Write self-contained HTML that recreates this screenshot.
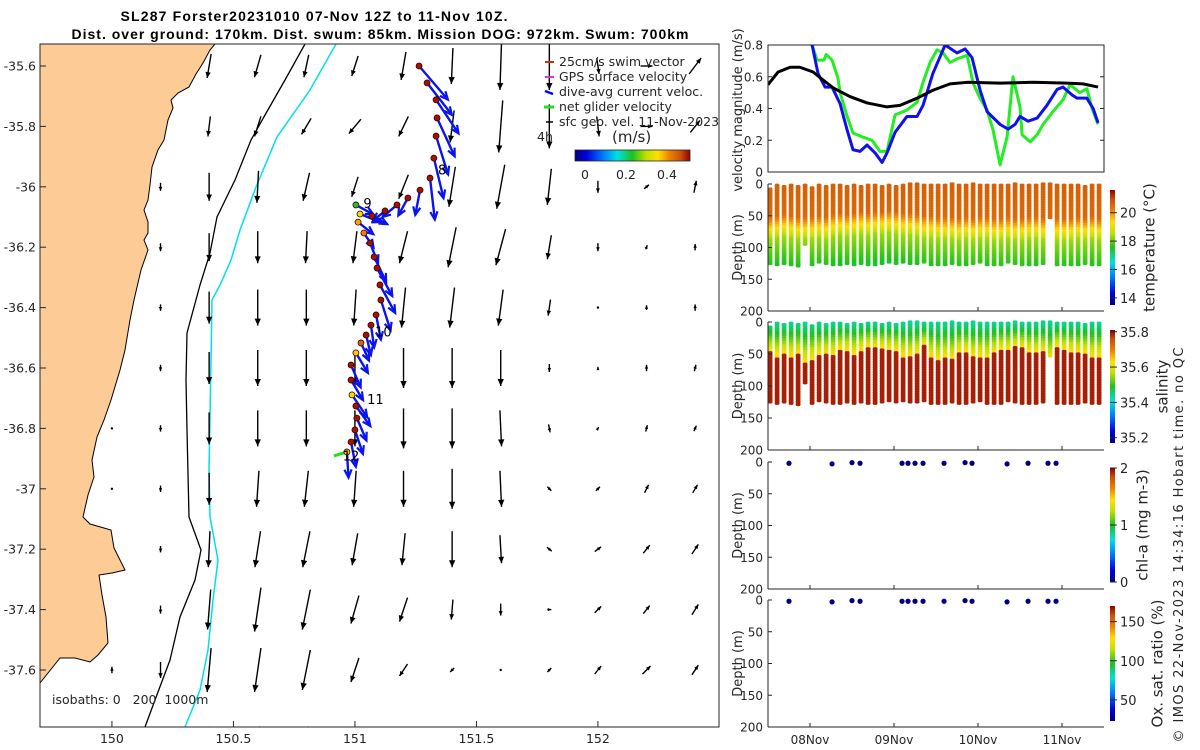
<!DOCTYPE html>
<html><head><meta charset="utf-8">
<style>
html,body{margin:0;padding:0;background:#fff;}
svg{display:block;font-family:"DejaVu Sans","Liberation Sans",sans-serif;}
.tk{font-size:12px;fill:#262626;}
.mt{font-size:12.5px;fill:#262626;}
</style></head>
<body>
<svg id="chart" width="1200" height="750" viewBox="0 0 1200 750">
<defs>
<clipPath id="mapclip"><rect x="40" y="44" width="679" height="683"/></clipPath>
<clipPath id="velclip"><rect x="768" y="45" width="336" height="127"/></clipPath>
<linearGradient id="gradH" x1="0" y1="0" x2="1" y2="0">
<stop offset="0" stop-color="#000080"/><stop offset="0.1" stop-color="#0000e0"/><stop offset="0.25" stop-color="#0080ff"/><stop offset="0.37" stop-color="#00e0e0"/><stop offset="0.5" stop-color="#20c020"/><stop offset="0.62" stop-color="#c0e000"/><stop offset="0.72" stop-color="#ffe000"/><stop offset="0.82" stop-color="#f08200"/><stop offset="0.92" stop-color="#c8500a"/><stop offset="1" stop-color="#900000"/>
</linearGradient>
<linearGradient id="gradV" x1="0" y1="1" x2="0" y2="0">
<stop offset="0" stop-color="#000080"/><stop offset="0.1" stop-color="#0000e0"/><stop offset="0.25" stop-color="#0080ff"/><stop offset="0.37" stop-color="#00e0e0"/><stop offset="0.5" stop-color="#20c020"/><stop offset="0.62" stop-color="#c0e000"/><stop offset="0.72" stop-color="#ffe000"/><stop offset="0.82" stop-color="#f08200"/><stop offset="0.92" stop-color="#c8500a"/><stop offset="1" stop-color="#900000"/>
</linearGradient>
</defs>

<text x="314" y="21" text-anchor="middle" font-family="Liberation Sans, sans-serif" font-weight="bold" font-size="14" textLength="387">SL287 Forster20231010 07-Nov 12Z to 11-Nov 10Z.</text>
<text x="380" y="39" text-anchor="middle" font-family="Liberation Sans, sans-serif" font-weight="bold" font-size="14" textLength="617">Dist. over ground: 170km. Dist. swum: 85km. Mission DOG: 972km. Swum: 700km</text>

<g id="map">
  <g clip-path="url(#mapclip)" id="mapinner"></g>
  <rect x="40" y="44" width="679" height="683" fill="none" stroke="#262626" stroke-width="1"/>
  <text x="52" y="704" class="mt" xml:space="preserve">isobaths: 0   200  1000m</text>
</g>

<g id="legend">
  <line x1="545" y1="62" x2="554" y2="62" stroke="#d03010" stroke-width="2"/>
  <text x="559" y="66" class="mt">25cm/s swim vector</text>
  <line x1="545" y1="77" x2="554" y2="77" stroke="#e030e0" stroke-width="2"/>
  <text x="559" y="81" class="mt">GPS surface velocity</text>
  <line x1="545" y1="91" x2="553" y2="94" stroke="#0000ff" stroke-width="2.5"/>
  <text x="559" y="96" class="mt">dive-avg current veloc.</text>
  <line x1="544" y1="107" x2="554" y2="107" stroke="#20e020" stroke-width="3"/>
  <text x="559" y="111" class="mt">net glider velocity</text>
  <line x1="546" y1="122" x2="553" y2="122" stroke="#000" stroke-width="1.5"/>
  <text x="559" y="126" class="mt">sfc geo. vel. 11-Nov-2023</text>
  <text x="537" y="141" class="mt">4h</text>
  <text x="612" y="142" font-size="15" fill="#262626">(m/s)</text>
  <rect x="575" y="150" width="115" height="11" fill="url(#gradH)" stroke="#262626" stroke-width="0.8"/>
  <text x="585" y="179" text-anchor="middle" class="mt">0</text>
  <text x="626" y="179" text-anchor="middle" class="mt">0.2</text>
  <text x="667" y="179" text-anchor="middle" class="mt">0.4</text>
</g>

<g id="right"></g>

<text transform="translate(1183,545) rotate(-90)" text-anchor="middle" font-size="13" fill="#262626" textLength="395">© IMOS 22-Nov-2023 14:34:16 Hobart time. no QC</text>
</svg>

<script>
// ---------------- data ----------------
const geoLons = [149.8,150.0,150.2,150.4,150.6,150.8,151.0,151.2,151.4,151.6,151.8,152.0,152.2,152.4];
const geoLats = [-35.6,-35.8,-36.0,-36.2,-36.4,-36.6,-36.8,-37.0,-37.2,-37.4,-37.6,-37.8];
const n=null;
const geoU = [
 [n,n,n,-0.05,-0.08,-0.06,-0.08,-0.06,-0.02,-0.02,0,0.03,0.15,0.15],
 [n,n,n,-0.03,-0.08,-0.12,-0.15,-0.12,-0.05,-0.05,0,0.03,0.15,0.12],
 [n,n,0,0,-0.02,-0.08,-0.08,-0.12,-0.08,-0.1,-0.05,0,0.06,0.03],
 [n,n,0,0,0,-0.02,-0.05,-0.1,-0.1,-0.12,-0.05,0,0.02,0],
 [n,n,0,0,0,0,-0.03,-0.05,-0.06,-0.06,-0.03,0,0,0],
 [n,n,0,0,0,0,0,0,0,0,0,0,0,0.02],
 [n,0,0,0,0,0,0,0,0,0.02,0.02,0.02,0.02,0.03],
 [n,0,0,0,-0.03,-0.05,-0.03,0,0,0.02,0.05,0.05,0.05,0.06],
 [n,n,0,-0.02,-0.07,-0.09,-0.07,-0.04,0,0.02,0.06,0.08,0.08,0.08],
 [n,n,0,-0.04,-0.08,-0.1,-0.1,-0.1,-0.02,0,0.05,0.08,0.08,0.08],
 [n,0,0,-0.05,-0.08,-0.1,-0.1,-0.1,-0.05,0,0.05,0.08,0.1,0.08],
 [0,0,0,-0.03,-0.05,-0.05,-0.05,-0.05,0,0,0.05,0.05,0.05,0.05]
];
const geoV = [
 [n,n,n,-0.3,-0.28,-0.28,-0.25,-0.35,-0.45,-0.6,-0.6,-0.2,0,0.2],
 [n,n,n,-0.25,-0.25,-0.2,-0.18,-0.25,-0.4,-0.65,-0.55,-0.25,0,0.15],
 [n,n,-0.1,-0.35,-0.4,-0.35,-0.25,-0.3,-0.5,-0.55,-0.45,-0.15,0.05,0.15],
 [n,n,-0.1,-0.35,-0.4,-0.4,-0.4,-0.4,-0.5,-0.45,-0.3,-0.1,0.05,0.08],
 [n,n,-0.08,-0.4,-0.45,-0.45,-0.45,-0.5,-0.5,-0.45,-0.2,0.02,0.06,0.08],
 [n,n,-0.08,-0.4,-0.45,-0.45,-0.45,-0.5,-0.5,-0.45,-0.1,0.03,0.08,0.08],
 [n,0.02,-0.08,-0.4,-0.45,-0.45,-0.45,-0.5,-0.5,-0.45,-0.1,0.03,0.08,0.07],
 [n,0.01,-0.08,-0.4,-0.45,-0.45,-0.45,-0.45,-0.5,-0.45,-0.05,0.05,0.1,0.1],
 [n,n,-0.08,-0.45,-0.45,-0.45,-0.4,-0.4,-0.45,-0.35,-0.05,0.06,0.1,0.12],
 [n,n,-0.1,-0.5,-0.55,-0.5,-0.35,-0.3,-0.25,-0.15,0,0.08,0.1,0.13],
 [n,0.08,-0.2,-0.55,-0.55,-0.5,-0.3,-0.15,-0.05,0,0.05,0.1,0.1,0.12],
 [0.03,0.03,-0.05,-0.1,-0.1,-0.1,-0.05,0,0,0,0.05,0.05,0.05,0.05]
];
const trkLon = [151.264,151.297,151.334,151.338,151.334,151.325,151.309,151.268,151.218,151.173,151.124,151.070,151.021,151.004,151.013,151.037,151.062,151.079,151.091,151.103,151.107,151.087,151.066,151.046,151.025,151.004,150.984,150.984,150.988,151.004,151.008,151.000,150.984,150.967];
const trkLat = [-35.600,-35.656,-35.712,-35.772,-35.832,-35.905,-35.971,-36.011,-36.037,-36.060,-36.080,-36.097,-36.090,-36.060,-36.117,-36.153,-36.186,-36.232,-36.269,-36.325,-36.375,-36.424,-36.458,-36.491,-36.517,-36.550,-36.590,-36.640,-36.689,-36.726,-36.766,-36.805,-36.845,-36.878];
const trkSpeed = [0.5,0.5,0.5,0.5,0.5,0.5,0.5,0.5,0.5,0.5,0.5,0.5,0.35,0.25,0.4,0.42,0.5,0.5,0.5,0.5,0.5,0.5,0.5,0.5,0.45,0.38,0.5,0.5,0.35,0.5,0.5,0.5,0.5,0.38];
const curU = [0.36,0.31,0.28,0.22,0.15,0.12,0.06,-0.06,-0.12,-0.18,-0.15,0.19,0.25,0.22,0.19,0.12,0.1,0.15,0.19,0.19,0.12,0.06,0.04,0.06,0.1,0.15,0.12,0.15,0.19,0.18,0.12,0.1,0.06,0.02];
const curV = [-0.42,-0.4,-0.42,-0.48,-0.48,-0.5,-0.52,-0.31,-0.22,-0.15,-0.12,-0.1,-0.1,-0.12,-0.15,-0.18,-0.25,-0.31,-0.35,-0.35,-0.38,-0.31,-0.28,-0.25,-0.22,-0.25,-0.28,-0.25,-0.28,-0.25,-0.28,-0.3,-0.31,-0.32];
const dayLabels = ['8','9','10','11','12'];
const dayLon = [151.342,151.035,151.083,151.050,150.950];
const dayLat = [-35.960,-36.070,-36.495,-36.719,-36.906];
const coastPx = [[215,44],[210,50],[203,63],[196,74],[189,87],[178,93],[171,100],[173,108],[168,120],[166,130],[164,140],[158,150],[152,167],[150,185],[148,200],[144,210],[148,222],[148,233],[144,240],[148,250],[141,270],[134,300],[130,320],[125,350],[120,370],[111,400],[104,420],[97,437],[92,460],[94,477],[88,495],[83,517],[90,524],[111,530],[114,548],[125,570],[112,573],[99,575],[102,595],[106,617],[108,643],[98,655],[90,662],[75,658],[60,658],[52,668],[40,683]];
const iso200Px = [[305,44],[285,80],[265,115],[251,140],[235,180],[217,217],[210,253],[200,285],[187,333],[186,380],[187,430],[189,517],[201,550],[195,580],[180,617],[170,660],[155,700],[145,727]];
const iso1000Px = [[336,44],[310,90],[277,137],[256,187],[240,230],[231,260],[220,285],[212,300],[211,360],[210,417],[209,470],[210,517],[218,560],[213,600],[208,650],[200,690],[185,727]];

const velHours = [-12,-9.1,-5.7,-2.9,0.9,3.7,6.6,11.4,16.3,22,25.7,30.6,35.1,40,44.9,54.3,63.7,73.4,78,82.3];
const geoVel = [0.55,0.63,0.66,0.66,0.63,0.58,0.53,0.475,0.435,0.41,0.42,0.465,0.515,0.555,0.565,0.56,0.565,0.56,0.555,0.535];
const curHours = [-2,0.6,2.3,4.3,6.3,8.6,10.6,12.3,14.3,16.3,18.6,20.6,22,24.3,27.7,30.6,32.3,35.1,38.6,42,44.3,46.3,48.6,50.6,54.3,56.6,58.6,60,62.3,64.9,67.7,70.6,72.3,74.9,76.3,79.1,80.9,82.3];
const curVel = [1.0,0.8,0.62,0.535,0.535,0.43,0.265,0.14,0.13,0.17,0.12,0.06,0.12,0.25,0.35,0.35,0.42,0.62,0.8,0.75,0.775,0.72,0.515,0.38,0.3,0.27,0.3,0.35,0.32,0.34,0.42,0.52,0.535,0.485,0.465,0.465,0.4,0.31];
const netHours = [-2,0.6,2,4,4.6,6.3,8,8.6,10.6,12.3,15.1,17.7,20,22,24.3,27.7,30.6,32.3,34.3,36.3,38,40,42.3,44.9,46.6,48.6,50.6,52.3,54.3,56.3,58,60,60.6,62.9,64.9,66.6,69.4,72.3,74.3,77.1,79.1,80.6,82.3];
const netVel = [1.0,0.8,0.705,0.705,0.74,0.705,0.59,0.5,0.35,0.245,0.22,0.2,0.13,0.13,0.36,0.39,0.44,0.565,0.69,0.77,0.75,0.69,0.715,0.735,0.56,0.465,0.39,0.265,0.045,0.22,0.6,0.41,0.235,0.19,0.235,0.3,0.38,0.455,0.55,0.5,0.525,0.4,0.3];

const profHours = [-11.4,-9.4,-7.4,-5.4,-3.4,-1.4,0.6,2.6,4.6,6.6,8.6,10.6,12.6,14.6,16.6,18.6,20.6,22.6,24.6,26.6,28.6,30.6,32.6,34.6,36.6,38.6,40.6,42.6,44.6,46.6,48.6,50.6,52.6,54.6,56.6,58.6,60.6,62.6,64.6,66.6,68.6,70.6,72.6,74.6,76.6,78.6,80.6,82.6];
const profMin = [8,2,4,2,4,2,6,2,4,2,2,4,2,4,2,2,4,2,4,2,0,0,2,2,2,2,0,2,2,0,2,2,2,2,2,0,2,2,2,0,0,2,2,2,2,4,2,2];
const profMax = [126,128,125,128,128,95,126,125,127,126,127,126,127,127,126,126,127,125,126,125,124,125,125,126,127,127,124,126,126,126,125,127,126,127,125,127,126,128,126,126,55,126,126,127,126,126,126,126];
const thermoDepth = [72,70,68,70,72,72,72,70,72,68,66,68,66,64,66,64,64,62,64,66,66,68,70,70,72,72,72,74,72,74,72,72,74,74,72,74,74,72,72,74,74,74,74,74,72,74,72,74];
const haloDepth = [48,55,52,55,52,65,60,52,52,52,45,45,52,45,40,42,42,45,48,55,55,50,38,55,62,58,60,48,48,55,55,58,50,45,45,40,42,48,50,48,60,40,45,48,50,50,55,55];
const sampHours = [-6,6.3,12,14.3,26.3,28,30,32.3,38.3,44.3,46.3,56.3,62.3,68,70.3];
const sampDepth = [2,3,1,2,2,2,2,2,2,1,2,3,2,2,2];

// ---------------- helpers ----------------
const svg=document.getElementById('chart');
const SVGNS='http://www.w3.org/2000/svg';
function mk(tag,attrs,parent){const e=document.createElementNS(SVGNS,tag);for(const k in attrs)e.setAttribute(k,attrs[k]);parent.appendChild(e);return e;}
const stops=[[0,[0,0,128]],[0.1,[0,0,224]],[0.25,[0,128,255]],[0.37,[0,224,224]],[0.5,[32,192,32]],[0.62,[192,224,0]],[0.72,[255,224,0]],[0.82,[240,130,0]],[0.92,[200,80,10]],[1,[144,0,0]]];
function cmap(t){t=Math.max(0,Math.min(1,t));for(let i=1;i<stops.length;i++){if(t<=stops[i][0]){const a=stops[i-1],b=stops[i];const f=(t-a[0])/(b[0]-a[0]);const c=a[1].map((v,j)=>Math.round(v+(b[1][j]-v)*f));return 'rgb('+c.join(',')+')';}}return 'rgb(144,0,0)';}
const mapX=lon=>40+(lon-149.704)*243;
const mapY=lat=>66+(-35.6-lat)*302;
const VS=80; // px per m/s on map
function arrowPath(x0,y0,x1,y1,hs){const dx=x1-x0,dy=y1-y0,L=Math.hypot(dx,dy)||1;const ux=dx/L,uy=dy/L;const bx=x1-ux*hs,by=y1-uy*hs;const px=-uy*hs*0.45,py=ux*hs*0.45;return {head:`${x1},${y1} ${bx+px},${by+py} ${bx-px},${by-py}`,b1:`${bx+px},${by+py}`,b2:`${bx-px},${by-py}`};}

// ---------------- map ----------------
const mi=document.getElementById('mapinner');
let landPts='40,44 '+coastPx.map(p=>p.join(',')).join(' ')+' 40,727';
const land=mk('polygon',{points:landPts,fill:'#fccb96',stroke:'#000','stroke-width':1},mi);


const i200=mk('polyline',{points:iso200Px.map(p=>p.join(',')).join(' '),fill:'none',stroke:'#000','stroke-width':1.3},mi);


const i1000=mk('polyline',{points:iso1000Px.map(p=>p.join(',')).join(' '),fill:'none',stroke:'#00e0e8','stroke-width':1.5},mi);



const geoG=mk('g',{},mi);


geoLats.forEach((lat,r)=>{geoLons.forEach((lon,c)=>{
  const u=geoU[r][c],v=geoV[r][c]; if(u===null||v===null) return;
  const cx=mapX(lon),cy=mapY(lat);
  const dx=u*VS,dy=-v*VS;
  const x0=cx-dx/2,y0=cy-dy/2,x1=cx+dx/2,y1=cy+dy/2;
  const g=mk('g',{},geoG);
  
  
  mk('line',{x1:x0,y1:y0,x2:x1,y2:y1,stroke:'#000','stroke-width':1.4},g);
  const L=Math.hypot(dx,dy);
  if(L>2){const a=arrowPath(x0,y0,x1,y1,Math.min(7,3+L*0.12));mk('polygon',{points:a.head,fill:'#000'},g);}
  else mk('circle',{cx:cx,cy:cy,r:1.2,fill:'#000'},g);
});});

const curG=mk('g',{},mi);


trkLon.forEach((lon,i)=>{
  const x0=mapX(lon),y0=mapY(trkLat[i]);
  const x1=x0+curU[i]*VS,y1=y0-curV[i]*VS;
  const g=mk('g',{},curG);
  
  
  mk('line',{x1:x0,y1:y0,x2:x1,y2:y1,stroke:'#0a14f0','stroke-width':2.4},g);
  const a=arrowPath(x0,y0,x1,y1,8);
  mk('polyline',{points:a.b1+' '+x1+','+y1+' '+a.b2,fill:'none',stroke:'#0a14f0','stroke-width':2.2},g);
});
const lastI=trkLon.length-1;
const net=mk('line',{x1:mapX(trkLon[lastI]),y1:mapY(trkLat[lastI]),x2:mapX(trkLon[lastI])-13,y2:mapY(trkLat[lastI])+4,stroke:'#20e020','stroke-width':3},mi);


const trkG=mk('g',{},mi);


trkLon.forEach((lon,i)=>{
  const c=mk('circle',{cx:mapX(lon),cy:mapY(trkLat[i]),r:3,fill:cmap(trkSpeed[i]/0.5*0.98),stroke:'#400000','stroke-width':0.8},trkG);
  
  
});
dayLabels.forEach((d,i)=>{
  const t=mk('text',{x:mapX(dayLon[i]),y:mapY(dayLat[i]),'font-size':13,fill:'#000'},mi);
  t.textContent=d;
  
  
});

const mapG=document.getElementById('map');
const xt=[150,150.5,151,151.5,152];
xt.forEach(v=>{
  const x=mapX(v);
  mk('line',{x1:x,y1:727,x2:x,y2:721,stroke:'#262626'},mapG);
  const t=mk('text',{x:x,y:743,'text-anchor':'middle',class:'mt'},mapG);
  t.textContent=String(v);
  
  
});
const yt=[-35.6,-35.8,-36,-36.2,-36.4,-36.6,-36.8,-37,-37.2,-37.4,-37.6];
yt.forEach(v=>{
  const y=mapY(v);
  mk('line',{x1:40,y1:y,x2:46,y2:y,stroke:'#262626'},mapG);
  const t=mk('text',{x:36,y:y+4.5,'text-anchor':'end',class:'mt'},mapG);
  t.textContent=String(v);
  
  
});

// ---------------- right panels ----------------
const R=document.getElementById('right');
const L0=768,R0=1104;
const tX=h=>810+h*3.5;
const dayTicks=[['08Nov',0],['09Nov',24],['10Nov',48],['11Nov',72]];

const vy=v=>172-v/0.8*127;
const vg=mk('g',{},R);


const vc=mk('g',{'clip-path':'url(#velclip)'},vg);
const lineDefs=[[netHours,netVel,'#22ee22','net-glider-velocity-line'],[curHours,curVel,'#1010ee','dive-avg-current-line'],[velHours,geoVel,'#000','geo-velocity-line']];
lineDefs.forEach(d=>{
  const p=mk('polyline',{points:d[0].map((h,i)=>tX(h)+','+vy(d[1][i])).join(' '),fill:'none',stroke:d[2],'stroke-width':3,'stroke-linejoin':'round'},vc);
  
  
});
mk('rect',{x:L0,y:45,width:R0-L0,height:127,fill:'none',stroke:'#262626'},vg);
[0,0.2,0.4,0.6,0.8].forEach(v=>{
  const y=vy(v);
  mk('line',{x1:L0,y1:y,x2:L0+4,y2:y,stroke:'#262626'},vg);
  mk('line',{x1:R0,y1:y,x2:R0-4,y2:y,stroke:'#262626'},vg);
  const t=mk('text',{x:763,y:y+4.5,'text-anchor':'end',class:'tk'},vg);
  t.textContent=v===0?'0':v.toFixed(1);
  
  
});
const vl=mk('text',{transform:'translate(742,110) rotate(-90)','text-anchor':'middle','font-size':13,fill:'#262626'},vg);
vl.textContent='velocity magnitude (m/s)';



const panels=[
 {top:184,bot:311,name:'temperature-panel',label:'temperature (°C)',lx:1150,cbTop:190,cbBot:305,vmin:13.5,vmax:21.6,ticks:[14,16,18,20],kind:'T',lfs:15},
 {top:322,bot:450,name:'salinity-panel',label:'salinity',lx:1163,cbTop:330,cbBot:443,vmin:35.17,vmax:35.81,ticks:[35.2,35.4,35.6,35.8],kind:'S',lfs:15},
 {top:462,bot:589,name:'chlorophyll-panel',label:'chl-a (mg m-3)',lx:1143,cbTop:468,cbBot:582,vmin:0,vmax:2,ticks:[0,1,2],kind:'C',lfs:15},
 {top:600,bot:727,name:'oxygen-panel',label:'Ox. sat. ratio (%)',lx:1158,cbTop:606,cbBot:721,vmin:23,vmax:170,ticks:[50,100,150],kind:'O',lfs:15}
];
function tempAt(d,td){const s=td-20;if(d<s)return 20.7-d*0.003;const e=d-s;if(e<35)return 20.55-e*0.065;return 18.3-(e-35)*0.018;}
function salAt(d,hd){if(d<hd)return 35.44+0.2*Math.pow(d/hd,1.3);return 35.79;}
panels.forEach((P,pi)=>{
  const g=mk('g',{},R);
  
  
  const dy=d=>P.top+d/200*(P.bot-P.top);
  if(P.kind==='T'||P.kind==='S'){
    profHours.forEach((h,i)=>{
      const x=tX(h);
      const col=mk('g',{},g);
      
      
      for(let d=profMin[i];d<=profMax[i];d+=4){
        const val=P.kind==='T'?tempAt(d,thermoDepth[i]):salAt(d,haloDepth[i]);
        const t=(val-P.vmin)/(P.vmax-P.vmin);
        mk('rect',{x:x-2.4,y:dy(d)-1.6,width:4.8,height:3.8,rx:1.5,fill:cmap(t)},col);
      }
    });
  } else {
    sampHours.forEach((h,i)=>{
      const c=mk('circle',{cx:tX(h),cy:dy(sampDepth[i]),r:2.6,fill:'#000080'},g);
      
      
    });
  }
  mk('line',{x1:L0,y1:P.top,x2:L0,y2:P.bot,stroke:'#262626'},g);
  mk('line',{x1:L0,y1:P.bot,x2:R0,y2:P.bot,stroke:'#262626'},g);
  [0,50,100,150,200].forEach(v=>{
    const y=dy(v);
    mk('line',{x1:L0,y1:y,x2:L0+4,y2:y,stroke:'#262626'},g);
    const t=mk('text',{x:763,y:y+4.5,'text-anchor':'end',class:'tk'},g);
    t.textContent=String(v);
    
    
  });
  dayTicks.forEach(dt=>{mk('line',{x1:tX(dt[1]),y1:P.bot,x2:tX(dt[1]),y2:P.bot-4,stroke:'#262626'},g);});
  const yl=mk('text',{transform:`translate(742,${(P.top+P.bot)/2}) rotate(-90)`,'text-anchor':'middle','font-size':13,fill:'#262626'},g);
  yl.textContent='Depth (m)';
  
  
  const cb=mk('rect',{x:1110,y:P.cbTop,width:5,height:P.cbBot-P.cbTop,fill:'url(#gradV)'},g);
  
  
  P.ticks.forEach(v=>{
    const y=P.cbBot-(v-P.vmin)/(P.vmax-P.vmin)*(P.cbBot-P.cbTop);
    mk('line',{x1:1110,y1:y,x2:1117,y2:y,stroke:'#262626'},g);
    const t=mk('text',{x:1120,y:y+5,'font-size':13,fill:'#262626'},g);
    t.textContent=String(v);
    
    
  });
  const cl=mk('text',{transform:`translate(${P.lx},${(P.cbTop+P.cbBot)/2}) rotate(-90)`,'text-anchor':'middle','dominant-baseline':'middle','font-size':P.lfs,fill:'#262626'},g);
  cl.textContent=P.label;
  
  
});
dayTicks.forEach(dt=>{
  const t=mk('text',{x:tX(dt[1]),y:744,'text-anchor':'middle',class:'tk'},R);
  t.textContent=dt[0];
  
  
});
</script>
</body></html>
